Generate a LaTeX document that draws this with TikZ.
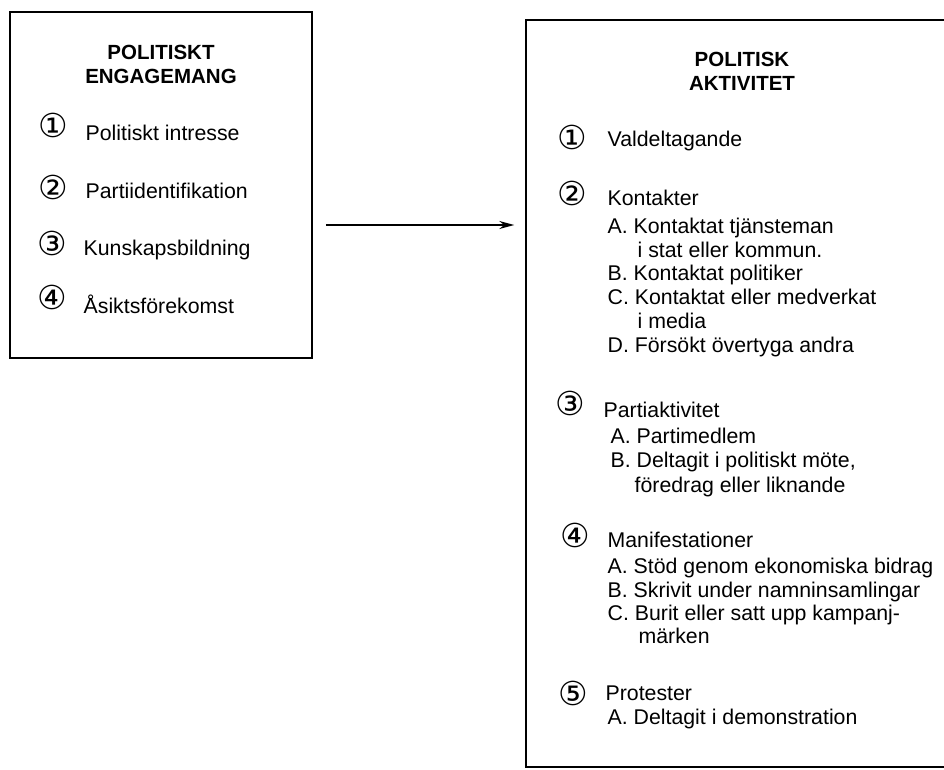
\documentclass[tikz,border=0pt]{standalone}
\usepackage{fontspec}
\setmainfont{Liberation Sans}
\newfontfamily\circfont{DejaVu Sans}
\usepackage{tikz}
\usetikzlibrary{arrows.meta}
\tikzset{
every picture/.style={
line width=1.3pt
}}

\begin{document}
\begin{tikzpicture}[x=1pt, y=-1pt,
block/.style = {rectangle, draw=black, line width=1.5pt, inner sep=0pt},
heading/.style = {font=\bfseries\fontsize{20.5}{24}\selectfont, anchor=base, inner sep=0pt},
item/.style = {font=\fontsize{21.3}{24}\selectfont, anchor=base west, inner sep=0pt},
num/.style = {font=\circfont\fontsize{33}{33}\selectfont, inner sep=0pt}]

\useasboundingbox (0,0) rectangle (944,770);
\clip (0,0) rectangle (944,770);

% left box
\node [block, minimum width=302pt, minimum height=346pt] (engage) at (161,185) {};
\node [heading] (eh1) at (161,60) {POLITISKT};
\node [heading] (eh2) at (161,84) {ENGAGEMANG};
\node [num] (en1) at (53,125) {①};
\node [item] (et1) at (85,141) {Politiskt intresse};
\node [num] (en2) at (53,187) {②};
\node [item] (et2) at (85,198) {Partiidentifikation};
\node [num] (en3) at (52,243) {③};
\node [item] (et3) at (83,255) {Kunskapsbildning};
\node [num] (en4) at (52,297) {④};
\node [item] (et4) at (83,313) {Åsiktsförekomst};

% right box
\node [block, minimum width=420pt, minimum height=747pt] (activity) at (736,393.5) {};
\node [heading] (ah1) at (742,67) {POLITISK};
\node [heading] (ah2) at (742,91) {AKTIVITET};

\node [num] (an1) at (572,137) {①};
\node [item] (at1) at (607,147) {Valdeltagande};

\node [num] (an2) at (572,193) {②};
\node [item] (at2) at (607,205) {Kontakter};
\node [item] (at2a) at (607,233) {A. Kontaktat tjänsteman};
\node [item] (at2a2) at (637,257) {i stat eller kommun.};
\node [item] (at2b) at (607,280) {B. Kontaktat politiker};
\node [item] (at2c) at (607,304) {C. Kontaktat eller medverkat};
\node [item] (at2c2) at (637,328) {i media};
\node [item] (at2d) at (607,352) {D. Försökt övertyga andra};

\node [num] (an3) at (570,403) {③};
\node [item] (at3) at (603,417) {Partiaktivitet};
\node [item] (at3a) at (610,443) {A. Partimedlem};
\node [item] (at3b) at (610,467) {B. Deltagit i politiskt möte,};
\node [item] (at3b2) at (634,492) {föredrag eller liknande};

\node [num] (an4) at (575,535) {④};
\node [item] (at4) at (607,547) {Manifestationer};
\node [item] (at4a) at (607,573) {A. Stöd genom ekonomiska bidrag};
\node [item] (at4b) at (607,597) {B. Skrivit under namninsamlingar};
\node [item] (at4c) at (607,620) {C. Burit eller satt upp kampanj-};
\node [item] (at4c2) at (638,643) {märken};

\node [num] (an5) at (573,693) {⑤};
\node [item] (at5) at (605,700) {Protester};
\node [item] (at5a) at (607,724) {A. Deltagit i demonstration};

% arrow between the boxes
\coordinate (arr) at (0,225);
\draw [-{Stealth[length=15pt, width=8pt]}, shorten <=13pt, shorten >=11pt]
  (engage.east |- arr) -- (activity.west |- arr);
\end{tikzpicture}
\end{document}
